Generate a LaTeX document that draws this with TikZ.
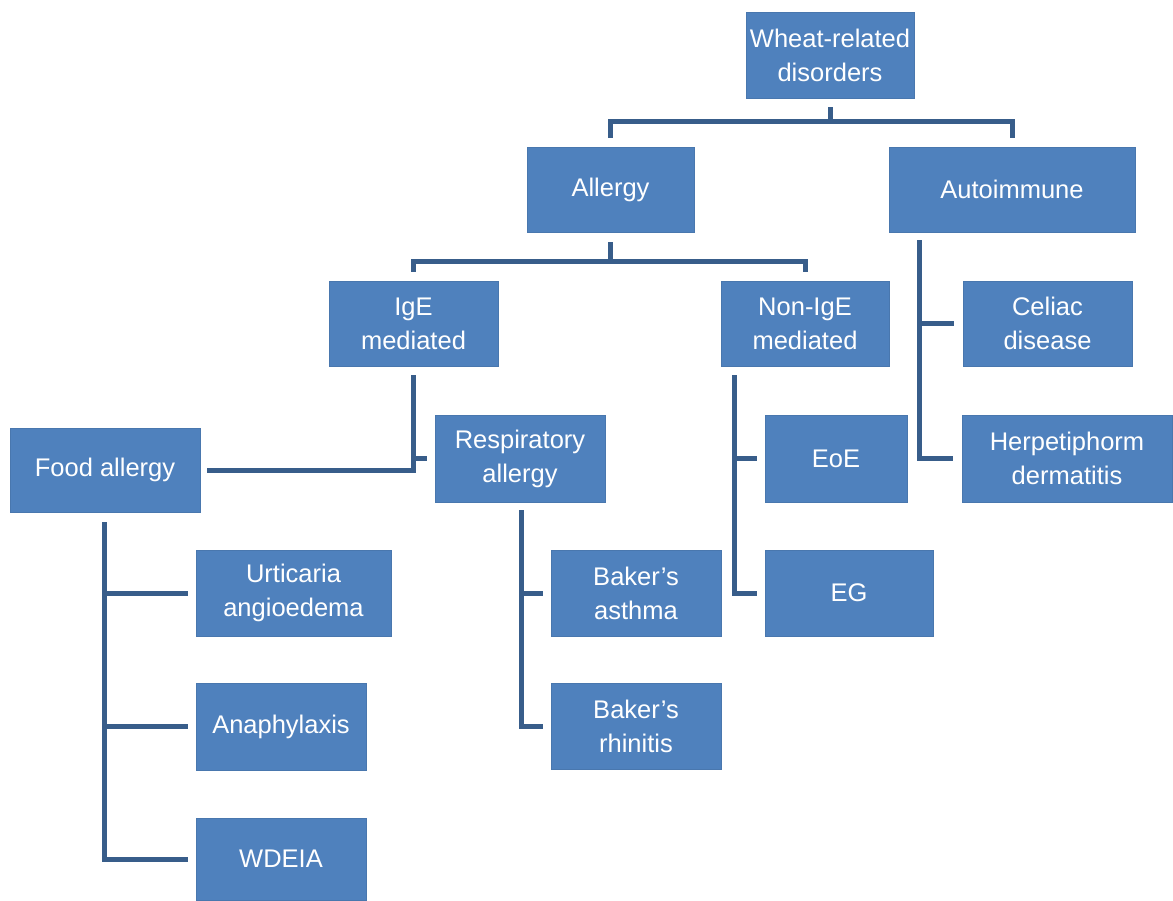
\documentclass[tikz,border=0pt]{standalone}
\usepackage{fontspec}
\setmainfont{Liberation Sans}
\definecolor{boxblue}{HTML}{4F81BD}
\definecolor{linkblue}{HTML}{385D8A}

\begin{document}
\begin{tikzpicture}[x=1pt,y=1pt,
    box/.style={fill=boxblue, draw=boxblue!92!black, line width=0.6pt, text=white,
      align=center, inner sep=0pt, font=\fontsize{25.5}{34}\selectfont},
    link/.style={draw=linkblue, line width=5pt}]
    \useasboundingbox (0,0) rectangle (1173,-900);
    % boxes
    \node [box, minimum width=168, minimum height=86] (wheat) at (830,-55) {Wheat-related\\disorders};
    \node [box, minimum width=167, minimum height=85] (allergy) at (610.5,-189.5) {Allergy};
    \node [box, minimum width=246, minimum height=85] (autoimm) at (1012,-189.5) {Autoimmune};
    \node [box, minimum width=169, minimum height=85] (ige) at (413.5,-323.5) {IgE\\mediated};
    \node [box, minimum width=168, minimum height=85] (nonige) at (805,-323.5) {Non-IgE\\mediated};
    \node [box, minimum width=169, minimum height=85] (celiac) at (1047.5,-323.5) {Celiac\\disease};
    \node [box, minimum width=190, minimum height=84] (food) at (105,-470) {Food allergy};
    \node [box, minimum width=170, minimum height=87] (resp) at (520,-458.5) {Respiratory\\allergy};
    \node [box, minimum width=142, minimum height=87] (eoe) at (836,-458.5) {EoE};
    \node [box, minimum width=210, minimum height=87] (herp) at (1067,-458.5) {Herpetiphorm\\dermatitis};
    \node [box, minimum width=195, minimum height=86] (urt) at (293.5,-593) {Urticaria\\angioedema};
    \node [box, minimum width=170, minimum height=86] (asthma) at (636,-593) {Baker's\\asthma};
    \node [box, minimum width=168, minimum height=86] (eg) at (849,-593) {EG};
    \node [box, minimum width=170, minimum height=87] (ana) at (281,-726.5) {Anaphylaxis};
    \node [box, minimum width=170, minimum height=86] (rhin) at (636,-726) {Baker's\\rhinitis};
    \node [box, minimum width=170, minimum height=82] (wdeia) at (281,-859) {WDEIA};
    % connectors
    \draw [link] ([yshift=-9pt]wheat.south) -- ++(0,-15);
    \draw [link] ([yshift=9pt]allergy.north) -- ++(0,16) -| ([yshift=9pt]autoimm.north);
    \draw [link] ([yshift=-10pt]allergy.south) -- ++(0,-20);
    \draw [link] ([yshift=9pt]ige.north) -- ++(0,10) -| ([yshift=9pt]nonige.north);
    \coordinate (autoT) at ([xshift=31pt,yshift=-8pt]autoimm.south west);
    \draw [link] (autoT) |- ([xshift=-9pt]herp.west);
    \draw [link] (autoT |- celiac.west) -- ([xshift=-9pt]celiac.west);
    \coordinate (nonT) at ([xshift=14pt,yshift=-9pt]nonige.south west);
    \draw [link] (nonT) |- ([xshift=-8pt]eg.west);
    \draw [link] (nonT |- eoe.west) -- ([xshift=-8pt]eoe.west);
    \draw [link] ([yshift=-9pt]ige.south) |- ([xshift=7pt]food.east);
    \draw [link] (ige.south |- resp.west) -- ([xshift=-8pt]resp.west);
    \draw [link] ([xshift=-1pt,yshift=-10pt]food.south) |- ([xshift=-8pt]wdeia.west);
    \draw [link] ([xshift=-1pt]food.south |- urt.west) -- ([xshift=-8pt]urt.west);
    \draw [link] ([xshift=-1pt]food.south |- ana.west) -- ([xshift=-8pt]ana.west);
    \draw [link] ([xshift=1pt,yshift=-8pt]resp.south) |- ([xshift=-8pt]rhin.west);
    \draw [link] ([xshift=1pt]resp.south |- asthma.west) -- ([xshift=-8pt]asthma.west);
\end{tikzpicture}
\end{document}
